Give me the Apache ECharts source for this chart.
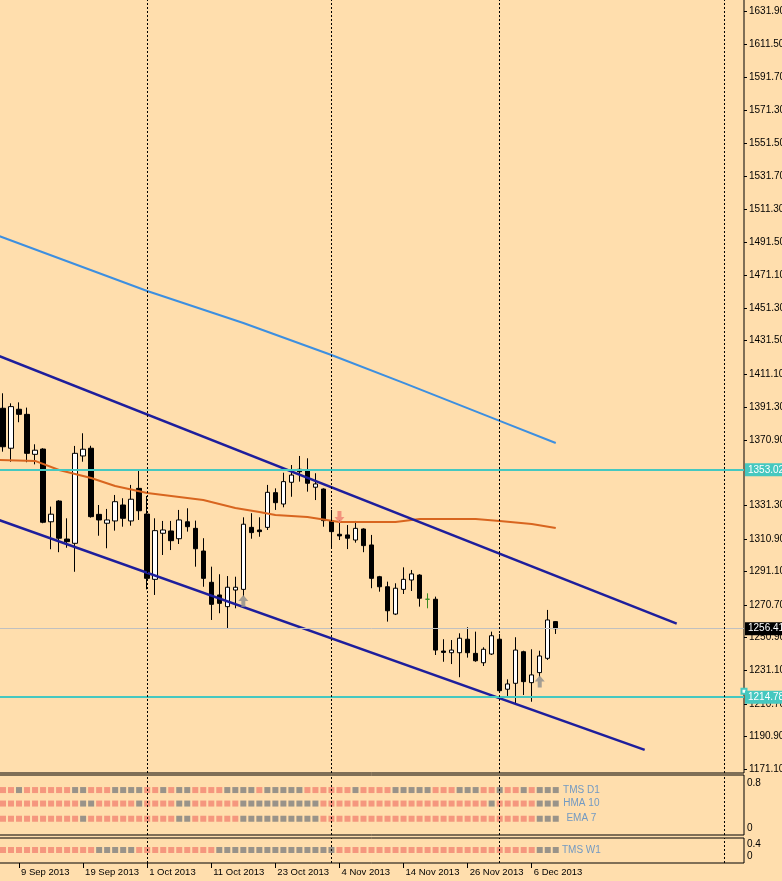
<!DOCTYPE html>
<html><head><meta charset="utf-8">
<script src="https://cdn.jsdelivr.net/npm/echarts@6/dist/echarts.min.js"></script>
<style>html,body{margin:0;padding:0;background:#FFDEAD;overflow:hidden}#c{width:782px;height:881px}</style>
</head><body><div id="c"></div>
<script>
// ---- data ----
const dates = ["5 Sep 2013","6 Sep 2013","9 Sep 2013","10 Sep 2013","11 Sep 2013","12 Sep 2013","13 Sep 2013","16 Sep 2013","17 Sep 2013","18 Sep 2013","19 Sep 2013","20 Sep 2013","23 Sep 2013","24 Sep 2013","25 Sep 2013","26 Sep 2013","27 Sep 2013","30 Sep 2013",
"1 Oct 2013","2 Oct 2013","3 Oct 2013","4 Oct 2013","7 Oct 2013","8 Oct 2013","9 Oct 2013","10 Oct 2013","11 Oct 2013","14 Oct 2013","15 Oct 2013","16 Oct 2013","17 Oct 2013","18 Oct 2013","21 Oct 2013","22 Oct 2013","23 Oct 2013","24 Oct 2013","25 Oct 2013","28 Oct 2013","29 Oct 2013","30 Oct 2013","31 Oct 2013",
"1 Nov 2013","4 Nov 2013","5 Nov 2013","6 Nov 2013","7 Nov 2013","8 Nov 2013","11 Nov 2013","12 Nov 2013","13 Nov 2013","14 Nov 2013","15 Nov 2013","18 Nov 2013","19 Nov 2013","20 Nov 2013","21 Nov 2013","22 Nov 2013","25 Nov 2013","26 Nov 2013","27 Nov 2013","28 Nov 2013","29 Nov 2013",
"2 Dec 2013","3 Dec 2013","4 Dec 2013","5 Dec 2013","6 Dec 2013","9 Dec 2013","10 Dec 2013","11 Dec 2013"];
const opens  = [1390.4,1366.1,1389.8,1386.7,1362.4,1365.6,1321.4,1334.0,1310.9,1308.3,1361.4,1366.1,1325.9,1320.5,1321.9,1331.6,1321.9,1341.7,1326.1,1286.4,1314.4,1315.8,1311.1,1321.4,1317.4,1303.6,1284.6,1276.9,1269.8,1279.9,1280.3,1318.0,1316.4,1318.0,1339.1,1332.2,1345.4,1353.3,1352.3,1342.4,1341.3,1322.1,1313.8,1313.4,1310.3,1317.0,1307.3,1288.0,1281.9,1265.3,1280.3,1286.0,1289.0,1274.3,1274.3,1242.8,1241.8,1241.8,1250.0,1241.4,1235.7,1241.0,1250.0,1219.6,1223.2,1242.4,1223.6,1229.7,1238.4,1260.7];
const closes = [1367.0,1391.4,1386.7,1363.0,1364.9,1321.1,1326.0,1311.4,1309.3,1363.0,1365.5,1324.5,1322.5,1322.5,1333.6,1323.5,1335.1,1328.1,1287.0,1316.0,1316.4,1309.9,1322.5,1318.4,1305.0,1287.0,1271.2,1271.8,1281.6,1281.6,1319.9,1314.8,1315.4,1339.3,1333.0,1345.8,1349.8,1351.8,1344.8,1344.4,1322.1,1315.4,1312.8,1311.4,1317.4,1306.9,1287.0,1281.9,1267.3,1281.0,1286.4,1289.7,1274.9,1274.3,1243.4,1242.0,1243.4,1250.6,1241.8,1236.9,1243.9,1252.1,1218.7,1222.8,1243.4,1224.2,1228.3,1239.8,1261.7,1256.41];
const lows   = [1364.0,1357.9,1381.9,1357.6,1356.3,1320.5,1304.7,1302.9,1305.6,1291.0,1357.9,1323.9,1312.9,1305.3,1316.0,1318.4,1319.0,1322.5,1280.3,1276.9,1301.2,1304.2,1307.9,1315.4,1294.1,1281.9,1261.7,1265.8,1256.6,1268.8,1275.9,1311.1,1312.3,1316.4,1328.6,1330.2,1336.6,1345.8,1339.7,1334.6,1318.4,1305.9,1310.3,1304.8,1308.7,1302.9,1281.0,1278.9,1260.7,1264.7,1277.5,1279.3,1269.8,1268.8,1240.4,1236.3,1234.9,1226.9,1238.8,1236.3,1233.7,1240.4,1218.1,1215.5,1210.6,1216.1,1212.0,1226.9,1237.4,1253.2];
const highs  = [1399.5,1393.4,1394.0,1390.8,1368.5,1366.1,1330.6,1334.5,1323.5,1367.5,1375.2,1367.6,1331.6,1329.2,1337.7,1335.7,1343.8,1352.9,1337.1,1323.5,1321.9,1321.9,1328.6,1329.6,1322.1,1311.4,1294.1,1289.5,1288.4,1288.0,1324.1,1326.6,1324.1,1343.8,1341.7,1351.2,1355.9,1361.4,1360.0,1350.9,1341.7,1328.6,1322.5,1319.4,1321.9,1317.4,1313.4,1288.5,1285.0,1284.0,1293.7,1292.1,1289.5,1277.9,1275.9,1250.0,1249.5,1253.6,1257.3,1254.6,1245.1,1254.6,1253.2,1225.6,1251.2,1243.0,1243.9,1243.0,1267.8,1261.0];

const priceTicks = [1631.90,1611.50,1591.70,1571.30,1551.50,1531.70,1511.30,1491.50,1471.10,1451.30,1431.50,1411.10,1391.30,1370.90,1331.30,1310.90,1291.10,1270.70,1250.90,1231.10,1210.70,1190.90,1171.10];
const dateTickLabels = ["9 Sep 2013","19 Sep 2013","1 Oct 2013","11 Oct 2013","23 Oct 2013","4 Nov 2013","14 Nov 2013","26 Nov 2013","6 Dec 2013"];
const separatorIdx = [18, 41, 62, 90];

// lines as [barIndex, price]
const blueLine   = [[-0.5,1495.1],[18,1461.7],[30,1442.2],[41,1422.8],[50,1405.8],[62,1382.7],[69,1369.3]];
const orangeLine = [[-0.5,1359.0],[4,1358.4],[7,1352.9],[11,1348.0],[14,1343.1],[18,1338.9],[21,1337.1],[25,1334.6],[29,1329.8],[32,1327.3],[34,1325.5],[38,1324.3],[42,1321.3],[49,1321.3],[52,1323.1],[59,1323.1],[62,1321.9],[66,1320.1],[69,1317.6]];
const channelUpper = [[-0.5,1422.2],[84.1,1259.5]];
const channelLower = [[-0.5,1322.5],[80.1,1182.7]];
const levelHigh = 1353.02, levelLow = 1214.78, lastPrice = 1256.41;
const upArrows = [[30,1273.2],[67,1224.3]];
const downArrows = [[42,1324.3]];

// indicator rows: 1 = salmon, 0 = grey
const tmsD1 = [1,1,0,1,1,1,1,1,1,0,0,1,1,1,0,0,0,0,1,1,0,1,0,0,1,1,1,1,0,0,0,0,1,0,0,0,0,0,1,1,1,1,1,1,0,1,1,1,1,0,0,0,0,0,1,1,1,0,0,0,1,1,0,1,1,0,1,0,0,0];
const hma10 = [1,1,1,1,1,1,1,1,1,1,0,0,1,1,1,1,1,0,1,1,1,1,0,0,1,1,1,1,1,1,0,0,0,0,0,0,0,0,0,0,1,1,1,1,1,1,1,1,1,1,1,1,1,1,1,1,1,1,1,1,1,0,1,1,1,1,1,0,0,0];
const ema7  = [1,1,1,1,1,1,1,1,1,1,0,1,1,1,1,1,1,1,1,1,1,1,0,0,1,1,1,1,1,1,0,0,0,0,0,0,0,0,0,0,1,1,1,1,1,1,1,1,1,1,1,1,1,1,1,1,1,1,1,1,1,1,1,1,1,1,1,0,0,0];
const tmsW1 = [1,1,1,1,1,1,1,1,1,1,1,1,0,0,0,0,0,1,1,1,1,1,1,1,1,1,1,0,0,0,0,0,0,0,0,0,0,0,0,0,0,0,1,1,1,1,1,1,1,1,1,1,1,1,1,1,1,1,1,1,1,1,1,1,1,1,1,0,0,0];
const rowLevelsD = [0.68, 0.44, 0.17];
const rowLevelW = 0.2;

// ---- build ----
const N = 93;
const FONT = '"Liberation Sans", Arial, sans-serif';
const cats = dates.slice();
for (let i = dates.length; i < N; i++) cats.push('f' + i);
const SALMON = '#F28472', GREY = '#808080', CYAN = '#45C8C0', LBL = '#4F88C8';

const candleData = dates.map((d, i) => {
  const item = { value: [opens[i], closes[i], lows[i], highs[i]] };
  if (opens[i] === closes[i]) {
    item.itemStyle = { color: '#3a8a20', color0: '#3a8a20', borderColor: '#3a8a20', borderColor0: '#3a8a20', borderColorDoji: '#3a8a20' };
  }
  return item;
});

function sepMarkLine() {
  return {
    silent: true, symbol: ['none', 'none'], animation: false,
    lineStyle: { color: '#000', width: 1, type: [2, 2] },
    label: { show: false },
    data: separatorIdx.map(v => ({ xAxis: v }))
  };
}
function rowSeries(arr, level, name, xi, yi, withSep) {
  const data = arr.map((v, i) => ({ value: [i, level], itemStyle: { color: v ? SALMON : GREY } }));
  data.push({ value: [72.2, level], symbolSize: 1, itemStyle: { color: 'rgba(0,0,0,0)' },
    label: { show: true, position: 'inside', formatter: name, color: LBL, fontSize: 10, fontFamily: FONT } });
  const s = { type: 'scatter', xAxisIndex: xi, yAxisIndex: yi, symbol: 'rect', symbolSize: [6, 6], data: data, z: 3, silent: true };
  if (withSep) s.markLine = sepMarkLine();
  return s;
}
function levelLabel(bg) {
  return { show: true, position: 'end', distance: 1, formatter: p => p.value.toFixed(2), color: '#fff', backgroundColor: bg, padding: [2, 3, 1, 3], fontSize: 10, fontFamily: FONT };
}
const arrowPath = 'path://M5,0 L10,6 L7,6 L7,12 L3,12 L3,6 L0,6 Z';
const gridBase = { left: -1, width: 745, show: true, borderColor: '#000', borderWidth: 1, backgroundColor: 'transparent', containLabel: false, outerBoundsMode: 'none' };
const noLine = { show: false, onZero: false };

const option = {
  animation: false,
  backgroundColor: '#FFDEAD',
  grid: [
    Object.assign({}, gridBase, { top: -1, height: 774 }),
    Object.assign({}, gridBase, { top: 775, height: 60 }),
    Object.assign({}, gridBase, { top: 838, height: 25 })
  ],
  xAxis: [
    { type: 'category', gridIndex: 0, data: cats, boundaryGap: true, axisLine: noLine, axisTick: { show: false }, axisLabel: { show: false }, splitLine: { show: false } },
    { type: 'value', gridIndex: 0, min: -0.5, max: N - 0.5, show: false, axisLine: noLine },
    { type: 'value', gridIndex: 1, min: -0.5, max: N - 0.5, show: false, axisLine: noLine },
    { type: 'value', gridIndex: 2, min: -0.5, max: N - 0.5, position: 'bottom',
      axisLine: noLine, splitLine: { show: false },
      axisTick: { show: true, length: 5, customValues: dateTickLabels.map(d => dates.indexOf(d)), lineStyle: { color: '#000' } },
      axisLabel: { show: true, customValues: dateTickLabels.map(d => dates.indexOf(d)), formatter: v => dates[Math.round(v)],
        align: 'left', padding: [0, 0, 0, 2], margin: 4, lineHeight: 10, fontSize: 9.5, color: '#000', fontFamily: FONT } }
  ],
  yAxis: [
    { type: 'value', gridIndex: 0, position: 'right', min: 1168.67, max: 1639.2,
      axisLine: noLine, splitLine: { show: false },
      axisTick: { show: true, length: 3, customValues: priceTicks, lineStyle: { color: '#000' } },
      axisLabel: { customValues: priceTicks, formatter: v => v.toFixed(2), margin: 5, fontSize: 10, color: '#000', fontFamily: FONT } },
    { type: 'value', gridIndex: 1, position: 'right', min: -0.119, max: 0.9476,
      axisLine: noLine, splitLine: { show: false }, axisTick: { show: false },
      axisLabel: { customValues: [0, 0.8], formatter: v => String(v), margin: 3, fontSize: 10, color: '#000', fontFamily: FONT } },
    { type: 'value', gridIndex: 2, position: 'right', min: -0.2333, max: 0.6,
      axisLine: noLine, splitLine: { show: false }, axisTick: { show: false },
      axisLabel: { customValues: [0, 0.4], formatter: v => String(v), margin: 3, fontSize: 10, color: '#000', fontFamily: FONT } }
  ],
  series: [
    { name: 'levels', type: 'line', xAxisIndex: 1, yAxisIndex: 0, data: [], z: 1,
      markLine: { silent: true, animation: false, symbol: ['none', 'none'],
        data: [
          { yAxis: levelHigh, lineStyle: { color: CYAN, width: 2, type: 'solid' }, label: levelLabel(CYAN) },
          { yAxis: lastPrice, lineStyle: { color: '#C0C0C0', width: 1, type: 'solid' }, label: levelLabel('#000') }
        ] } },
    { name: 'support', type: 'line', xAxisIndex: 1, yAxisIndex: 0, data: [], z: 1,
      markLine: { silent: true, animation: false, symbol: ['none', 'emptyRect'], symbolSize: 5, symbolOffset: [0, [-6, 0]],
        data: [ { yAxis: levelLow, lineStyle: { color: CYAN, width: 2, type: 'solid' }, itemStyle: { color: CYAN }, label: levelLabel(CYAN) } ] } },
    { name: 'sep', type: 'line', xAxisIndex: 1, yAxisIndex: 0, data: [], z: 1, markLine: sepMarkLine() },
    { name: 'XAUUSD', type: 'candlestick', xAxisIndex: 0, yAxisIndex: 0, data: candleData, barWidth: 5, z: 3,
      itemStyle: { color: '#ffffff', color0: '#000000', borderColor: '#000000', borderColor0: '#000000', borderWidth: 1 } },
    { name: 'blue', type: 'line', xAxisIndex: 1, yAxisIndex: 0, data: blueLine, showSymbol: false, z: 4,
      lineStyle: { color: '#3D8FE0', width: 2 } },
    { name: 'orange', type: 'line', xAxisIndex: 1, yAxisIndex: 0, data: orangeLine, showSymbol: false, z: 4,
      lineStyle: { color: '#D8651F', width: 2 } },
    { name: 'chanU', type: 'line', xAxisIndex: 1, yAxisIndex: 0, data: channelUpper, showSymbol: false, z: 4,
      lineStyle: { color: '#1E1E9C', width: 2.5 } },
    { name: 'chanL', type: 'line', xAxisIndex: 1, yAxisIndex: 0, data: channelLower, showSymbol: false, z: 4,
      lineStyle: { color: '#1E1E9C', width: 2.5 } },
    { name: 'up', type: 'scatter', xAxisIndex: 0, yAxisIndex: 0, data: upArrows, symbol: arrowPath, symbolSize: [10, 12], z: 5,
      itemStyle: { color: '#8C8C8C' } },
    { name: 'down', type: 'scatter', xAxisIndex: 0, yAxisIndex: 0, data: downArrows, symbol: arrowPath, symbolSize: [10, 12], symbolRotate: 180, z: 5,
      itemStyle: { color: '#F08070' } },
    rowSeries(tmsD1, rowLevelsD[0], 'TMS D1', 2, 1, true),
    rowSeries(hma10, rowLevelsD[1], 'HMA 10', 2, 1, false),
    rowSeries(ema7,  rowLevelsD[2], 'EMA 7', 2, 1, false),
    rowSeries(tmsW1, rowLevelW, 'TMS W1', 3, 2, true)
  ]
};
const chart = echarts.init(document.getElementById('c'));
chart.setOption(option);
</script>
</body></html>
